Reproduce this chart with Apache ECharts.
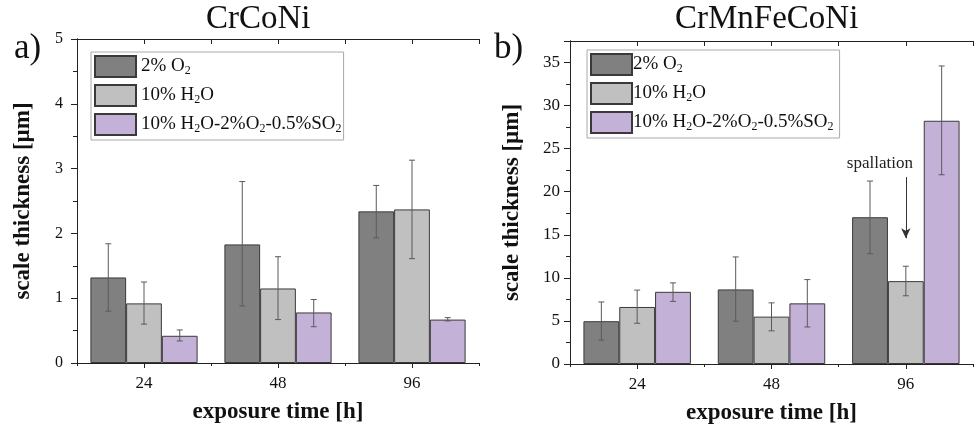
<!DOCTYPE html>
<html><head><meta charset="utf-8">
<script src="https://cdn.jsdelivr.net/npm/echarts@6/dist/echarts.min.js"></script>
<style>html,body{margin:0;padding:0;background:#fff}#c{width:974px;height:433px}</style>
</head><body><div id="c"></div>
<script>
// ---- data ----
const categories = ['24', '48', '96'];
const seriesNames = ['2% O2', '10% H2O', '10% H2O-2%O2-0.5%SO2'];
const legendLabels = ['2% O{s|2}', '10% H{s|2}O', '10% H{s|2}O-2%O{s|2}-0.5%SO{s|2}'];

// panel a) CrCoNi
const a_O2 = [1.32, 1.83, 2.34];
const a_O2_lo = [0.80, 0.88, 1.93];
const a_O2_hi = [1.84, 2.80, 2.74];
const a_H2O = [0.92, 1.15, 2.37];
const a_H2O_lo = [0.60, 0.67, 1.61];
const a_H2O_hi = [1.25, 1.64, 3.13];
const a_SO2 = [0.42, 0.78, 0.67];
const a_SO2_lo = [0.34, 0.56, 0.65];
const a_SO2_hi = [0.51, 0.98, 0.70];

// panel b) CrMnFeCoNi
const b_O2 = [4.97, 8.66, 17.04];
const b_O2_lo = [2.77, 4.97, 12.8];
const b_O2_hi = [7.2, 12.43, 21.24];
const b_H2O = [6.62, 5.5, 9.62];
const b_H2O_lo = [4.73, 3.85, 7.92];
const b_H2O_hi = [8.58, 7.1, 11.35];
const b_SO2 = [8.38, 7.04, 28.24];
const b_SO2_lo = [7.27, 4.3, 21.97];
const b_SO2_hi = [9.42, 9.8, 34.6];

const yTicksA = {min: 0, max: 5, interval: 1};
const yTicksB = {min: 0, max: 37.5, interval: 5};

// annotation (data space)
const spallTop = 21.7, spallTip = 14.6;

// ---- styles ----
const FONT = 'Liberation Serif';
const colors = ['#808080', '#c0c0c0', '#c3b1d8'];
const axisCol = '#222';

const chart = echarts.init(document.getElementById('c'), null, {renderer: 'canvas'});

function errRender(pos) {
  return function (params, api) {
    const ci = api.value(0);
    const lo = api.coord([ci, api.value(1)]);
    const hi = api.coord([ci, api.value(2)]);
    const bw = api.size([1, 0])[0] * 0.8 / 3;
    const x = lo[0] + (pos - 1) * bw;
    const cap = 3;
    const st = {stroke: '#5a5a5a', lineWidth: 1};
    return {type: 'group', children: [
      {type: 'line', shape: {x1: x, y1: lo[1], x2: x, y2: hi[1]}, style: st},
      {type: 'line', shape: {x1: x - cap, y1: lo[1], x2: x + cap, y2: lo[1]}, style: st},
      {type: 'line', shape: {x1: x - cap, y1: hi[1], x2: x + cap, y2: hi[1]}, style: st}
    ]};
  };
}

function makeX(grid) {
  return [
    { type: 'category', gridIndex: grid, data: categories, position: 'bottom',
      axisLine: {show: true, lineStyle: {color: axisCol, width: 1}},
      axisTick: {show: true, alignWithLabel: true, length: 5, inside: false, lineStyle: {color: axisCol}},
      axisLabel: {fontFamily: FONT, fontSize: 17, color: '#111', margin: 12},
      name: 'exposure time [h]', nameLocation: 'middle', nameGap: 38,
      nameTextStyle: {fontFamily: FONT, fontSize: 23, fontWeight: 'bold', color: '#111'},
      splitLine: {show: false} },
    { type: 'value', gridIndex: grid, min: 0, max: 3, interval: 1, position: 'bottom',
      axisLine: {show: false}, axisLabel: {show: false}, splitLine: {show: false},
      axisTick: {show: true, length: 3, lineStyle: {color: axisCol}} },
    { type: 'value', gridIndex: grid, min: 0, max: 6, interval: 1, position: 'top',
      axisLine: {show: true, lineStyle: {color: axisCol, width: 1}}, axisLabel: {show: false},
      splitLine: {show: false},
      axisTick: {show: true, inside: true, length: 5, lineStyle: {color: axisCol}} }
  ];
}

function makeY(grid, t, gap, margin, fs) {
  return [
    { type: 'value', gridIndex: grid, position: 'left', min: t.min, max: t.max, interval: t.interval,
      axisLine: {show: true, lineStyle: {color: axisCol, width: 1}},
      axisTick: {show: true, length: 6, lineStyle: {color: axisCol}},
      minorTick: {show: true, splitNumber: 2, length: 4, lineStyle: {color: axisCol}},
      splitLine: {show: false}, minorSplitLine: {show: false},
      axisLabel: {fontFamily: FONT, fontSize: fs, color: '#111', margin: margin, showMaxLabel: t.max % t.interval === 0,
        formatter: v => (v % t.interval === 0 ? String(v) : '')},
      name: 'scale thickness [µm]', nameLocation: 'middle', nameGap: gap,
      nameTextStyle: {fontFamily: FONT, fontSize: 23, fontWeight: 'bold', color: '#111'} },
    { type: 'value', gridIndex: grid, position: 'right', min: t.min, max: t.max, interval: t.interval,
      axisLine: {show: true, lineStyle: {color: axisCol, width: 1}},
      axisTick: {show: true, inside: true, length: 6, lineStyle: {color: axisCol}},
      minorTick: {show: true, splitNumber: 2, length: 4, lineStyle: {color: axisCol}},
      splitLine: {show: false}, axisLabel: {show: false} }
  ];
}

function barSeries(xi, yi, name, data, color, extra) {
  return Object.assign({
    type: 'bar', name: name, xAxisIndex: xi, yAxisIndex: yi, data: data,
    barGap: '0%', barCategoryGap: '20%',
    itemStyle: {color: color, borderColor: '#3a3a3a', borderWidth: 1},
    z: 2
  }, extra || {});
}
function errSeries(xi, yi, pos, lo, hi) {
  return {
    type: 'custom', xAxisIndex: xi, yAxisIndex: yi, renderItem: errRender(pos),
    data: lo.map((v, i) => [i, v, hi[i]]), encode: {x: 0, y: [1, 2]}, z: 5, silent: true
  };
}

function legendCfg(left, top, textPadLeft, padRight) {
  return {
    left: left, top: top, orient: 'vertical', icon: 'rect', itemWidth: 41, itemHeight: 21, itemGap: 6,
    padding: [3, padRight, 4, 3], backgroundColor: '#fff', borderColor: '#aaa', borderWidth: 1,
    data: seriesNames.map(n => ({name: n})),
    formatter: n => legendLabels[seriesNames.indexOf(n)],
    textStyle: {fontFamily: FONT, fontSize: 19, color: '#111', lineHeight: 21, padding: [0, 0, 0, textPadLeft],
      rich: {s: {fontFamily: FONT, fontSize: 12, lineHeight: 11, verticalAlign: 'bottom', color: '#111'}}}
  };
}

const option = {
  animation: false,
  backgroundColor: '#fff',
  grid: [
    {left: 77, right: 495, top: 39, bottom: 70, containLabel: false},
    {left: 570, right: 1, top: 41, bottom: 69, containLabel: false}
  ],
  xAxis: makeX(0).concat(makeX(1)),
  yAxis: makeY(0, yTicksA, 42, 14, 16).concat(makeY(1, yTicksB, 46, 10, 17)),
  legend: [legendCfg(91, 52, 0, 2), legendCfg(587, 50, -4, 6)],
  graphic: [
    {type: 'text', left: 206, top: 3, style: {text: 'CrCoNi', font: '33px "Liberation Serif"', fill: '#111'}},
    {type: 'text', left: 675, top: 3, style: {text: 'CrMnFeCoNi', font: '33px "Liberation Serif"', fill: '#111'}},
    {type: 'text', left: 14, top: 31, style: {text: 'a)', font: '35px "Liberation Serif"', fill: '#111'}},
    {type: 'text', left: 494, top: 31, style: {text: 'b)', font: '35px "Liberation Serif"', fill: '#111'}}
  ],
  series: [
    barSeries(0, 0, seriesNames[0], a_O2, colors[0]),
    barSeries(0, 0, seriesNames[1], a_H2O, colors[1]),
    barSeries(0, 0, seriesNames[2], a_SO2, colors[2]),
    errSeries(0, 0, 0, a_O2_lo, a_O2_hi),
    errSeries(0, 0, 1, a_H2O_lo, a_H2O_hi),
    errSeries(0, 0, 2, a_SO2_lo, a_SO2_hi),
    barSeries(3, 2, seriesNames[0], b_O2, colors[0]),
    barSeries(3, 2, seriesNames[1], b_H2O, colors[1], {
      markLine: {
        silent: true, symbol: ['none', 'arrow'], symbolSize: [7, 10],
        lineStyle: {color: '#333', width: 1, type: 'solid'},
        label: {show: true, position: 'start', distance: 5, formatter: 'spallation',
          fontFamily: FONT, fontSize: 17, color: '#222', padding: [0, 52, 0, 0]},
        data: [[{coord: [2, spallTop]}, {coord: [2, spallTip]}]]
      }
    }),
    barSeries(3, 2, seriesNames[2], b_SO2, colors[2]),
    errSeries(3, 2, 0, b_O2_lo, b_O2_hi),
    errSeries(3, 2, 1, b_H2O_lo, b_H2O_hi),
    errSeries(3, 2, 2, b_SO2_lo, b_SO2_hi)
  ]
};
chart.setOption(option);
</script>
</body></html>
